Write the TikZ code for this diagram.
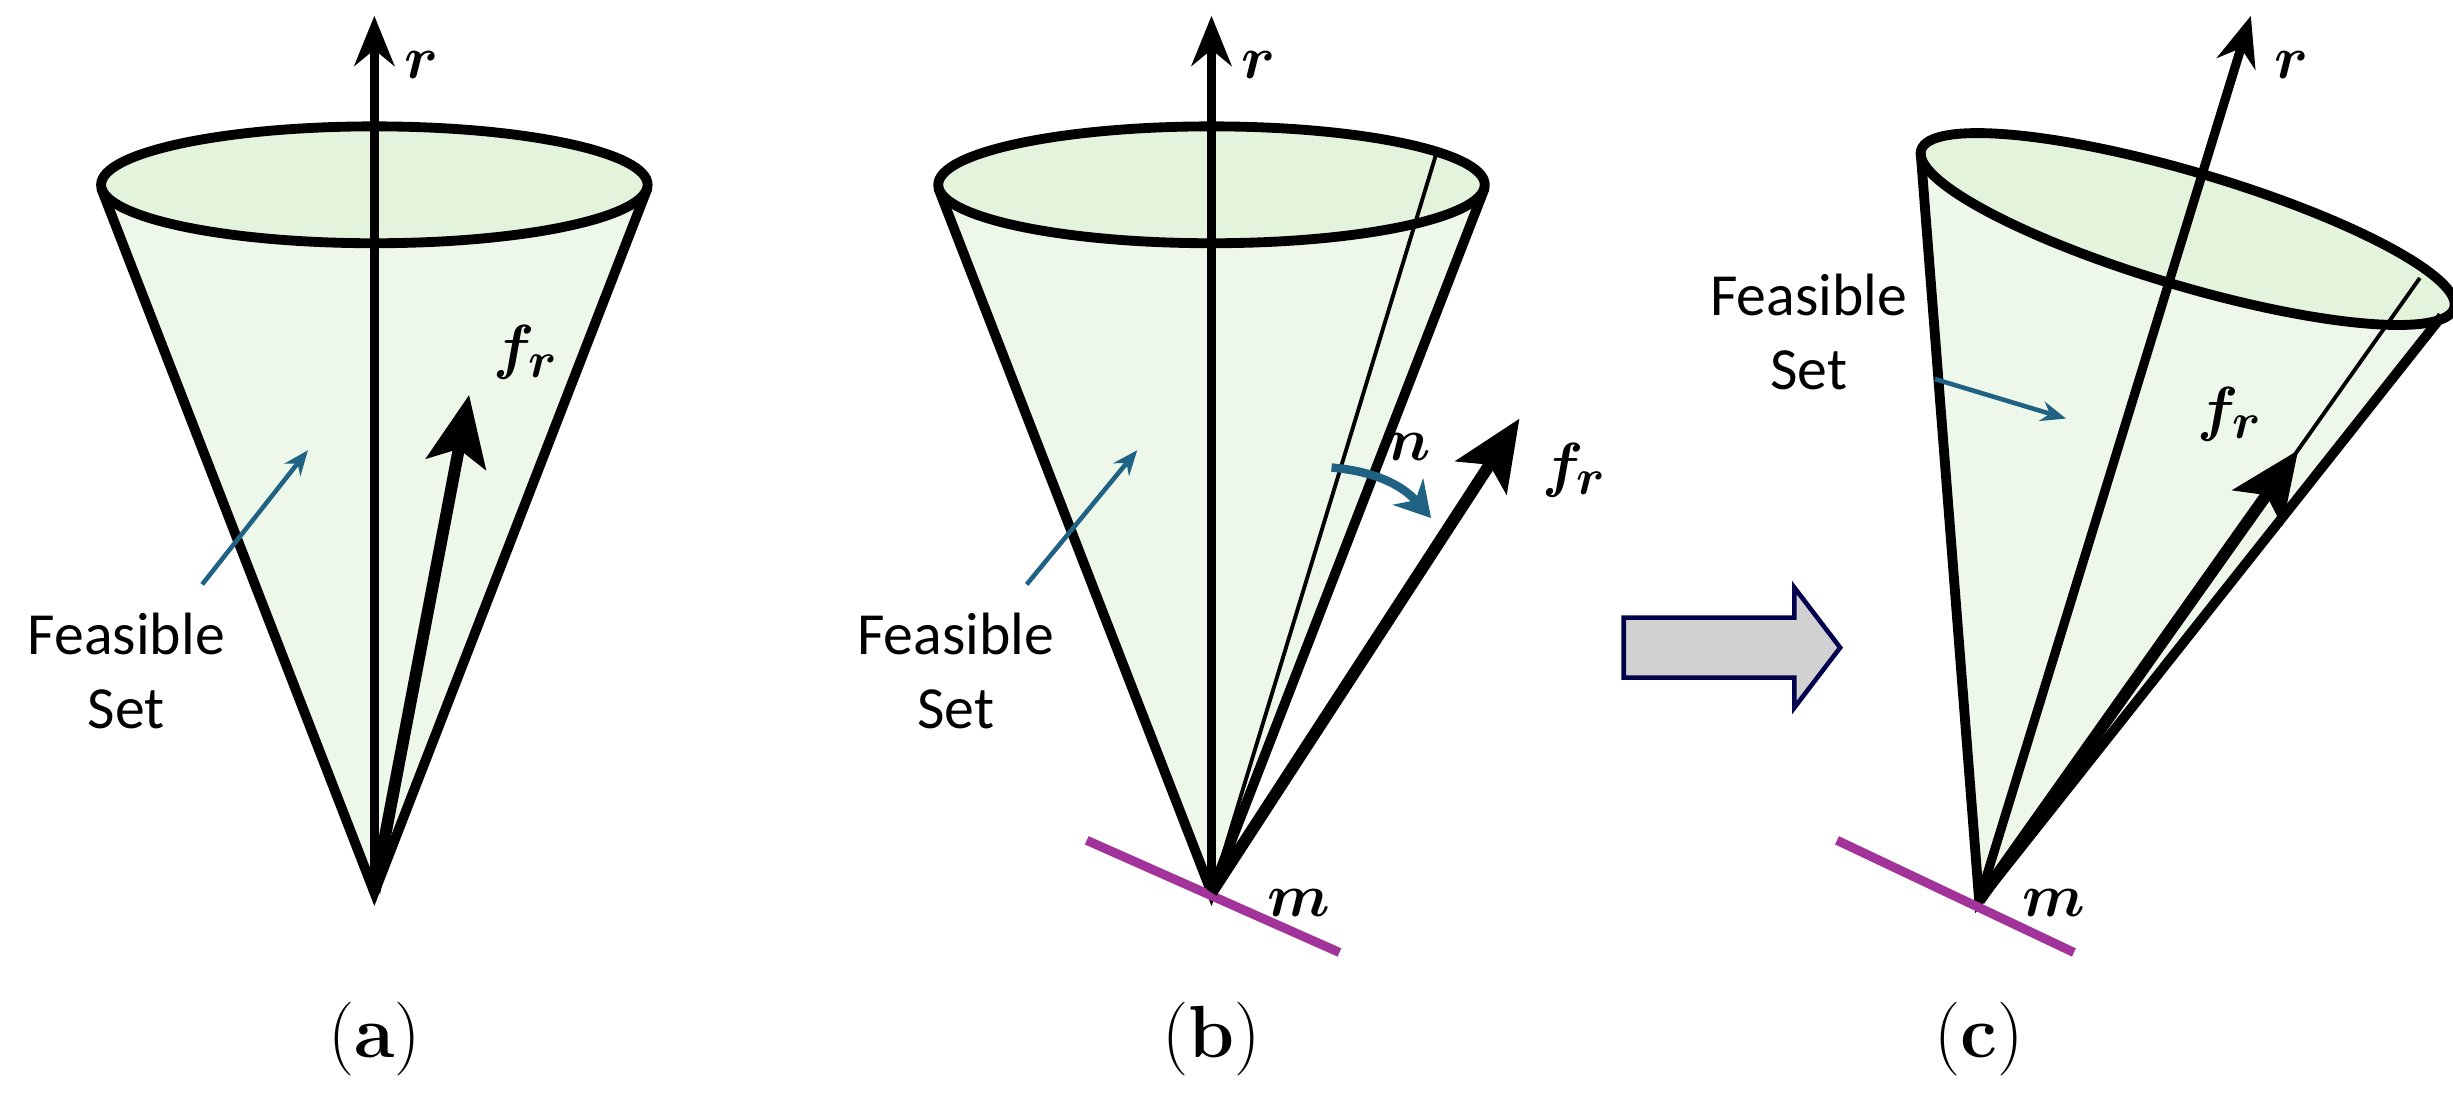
\documentclass[tikz,border=0pt]{standalone}
\usepackage{amsmath,bm}
\usepackage{fontspec}
\setsansfont{Carlito}
\usetikzlibrary{arrows.meta,positioning,calc}
\definecolor{conefill}{HTML}{EEF8EA}
\definecolor{topfill}{HTML}{E4F3DC}
\definecolor{pointer}{HTML}{1F6284}
\definecolor{surface}{HTML}{A2339B}
\tikzset{
	edge/.style={line width=2.8pt},
	axis/.style={line width=2.6pt,-{Stealth[length=5mm,width=4mm]}},
	force/.style={line width=3.4pt,-{Stealth[length=7mm,width=6mm,inset=1.5mm]}},
	inner line/.style={line width=1.1pt},
	note/.style={pointer,line width=1.3pt,-{Stealth[length=2.5mm,width=2mm]}},
	txt/.style={font=\sffamily\fontsize{17}{21}\selectfont,align=center},
	lab/.style={font=\fontsize{19}{21}\selectfont},
	caption/.style={font=\fontsize{21}{24}\selectfont}
}
\begin{document}
\begin{tikzpicture}[x=0.015795cm,y=-0.015795cm]
	\useasboundingbox (0,0) rectangle (1553,693);
	% (a)
	\coordinate (apexA) at (237,565);
	\coordinate (topA) at (237,117);
	\fill[conefill] (apexA) -- (64,117) -- (410,117) -- cycle;
	\filldraw[fill=topfill,edge] (topA) ellipse [x radius=173, y radius=37];
	\draw[edge] (64,119) -- (apexA) -- (410,119);
	\draw[axis] (apexA) -- (237,10) node[right,lab,xshift=4pt,yshift=-14pt]{$\bm{r}$};
	\draw[force] (apexA) -- (297,250) node[right,lab,xshift=2pt,yshift=12pt]{$\bm{f}_{\bm{r}}$};
	\node[txt] (feasA) at (80,425) {Feasible\\Set};
	\draw[note] (128,370) -- (195,285);
	\node[caption] (capA) at (237,658) {(\textbf{a})};
	% (b)
	\coordinate (apexB) at (767,565);
	\coordinate (topB) at (767,117);
	\fill[conefill] (apexB) -- (594,117) -- (940,117) -- cycle;
	\filldraw[fill=topfill,edge] (topB) ellipse [x radius=173, y radius=37];
	\draw[edge] (594,119) -- (apexB) -- (940,119);
	\draw[inner line] (apexB) -- (910,95);
	\draw[axis] (apexB) -- (767,10) node[right,lab,xshift=4pt,yshift=-14pt]{$\bm{r}$};
	\draw[surface,line width=2.6pt] (688,532) -- (848,603);
	\node[lab] (mB) at (822,572) {$\bm{m}$};
	\draw[force] (apexB) -- (962,265);
	\node[lab] (fB) at (997,298) {$\bm{f}_{\bm{r}}$};
	\draw[pointer,line width=2.4pt,-{Stealth[length=3.5mm,width=4mm]}] (843,296) to[bend left=22] (906,328);
	\node[lab] (nB) at (892,283) {$\bm{n}$};
	\node[txt] (feasB) at (605,425) {Feasible\\Set};
	\draw[note] (650,370) -- (720,285);
	\node[caption] (capB) at (767,658) {(\textbf{b})};
	% arrow
	\coordinate (step) at (1028,410);
	\filldraw[fill=black!18,draw=black!70!blue,line width=1.3pt]
		(step) ++(0,-19) -- ++(108,0) -- ++(0,-19) -- (1165,410) -- (1136,448) -- ++(0,-19) -- ++(-108,0) -- cycle;
	% (c)
	\coordinate (apexC) at (1253,570);
	\fill[conefill] (apexC) -- (1215,95) -- (1550,195) -- cycle;
	\filldraw[fill=topfill,edge,rotate around={-16.5:(1385,145)}] (1385,145) ellipse [x radius=176, y radius=36];
	\draw[edge] (1216,97) -- (apexC) -- (1546,200);
	\draw[inner line] (apexC) -- (1532,176);
	\draw[axis] (apexC) -- (1425,10) node[right,lab,xshift=2pt,yshift=-14pt]{$\bm{r}$};
	\draw[surface,line width=2.6pt] (1163,532) -- (1313,603);
	\node[lab] (mC) at (1300,572) {$\bm{m}$};
	\draw[force] (apexC) -- (1455,285);
	\node[lab] (fC) at (1412,262) {$\bm{f}_{\bm{r}}$};
	\node[txt] (feasC) at (1145,210) {Feasible\\Set};
	\draw[note] (1225,240) -- (1308,265);
	\node[caption] (capC) at (1253,658) {(\textbf{c})};
\end{tikzpicture}
\end{document}
